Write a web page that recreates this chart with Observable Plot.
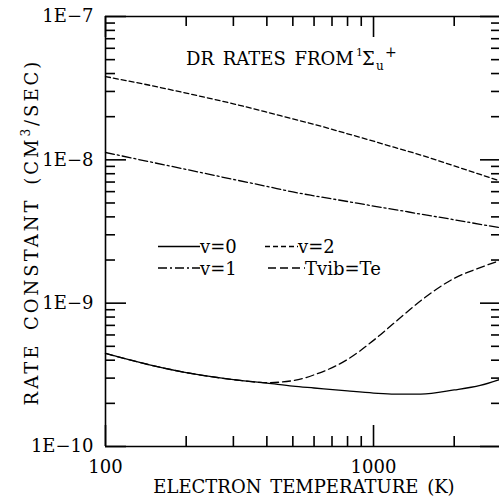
<!DOCTYPE html>
<html><head><meta charset="utf-8">
<script src="https://cdn.jsdelivr.net/npm/d3@7"></script>
<script src="https://cdn.jsdelivr.net/npm/@observablehq/plot@0.6"></script>
<style>html,body{margin:0;padding:0;overflow:hidden;background:#fff}</style>
</head><body><div id="chart"></div>
<script>
// ---- data ----
const temperature = [100,150,200,300,400,500,600,800,1000,1200,1500,2000,2500,3000];
const rateV0   = [4.46e-10,3.67e-10,3.28e-10,2.93e-10,2.77e-10,2.64e-10,2.56e-10,2.44e-10,2.36e-10,2.32e-10,2.32e-10,2.48e-10,2.67e-10,2.96e-10];
const rateV1   = [1.125e-8,9.59e-9,8.57e-9,7.30e-9,6.53e-9,5.97e-9,5.61e-9,5.12e-9,4.76e-9,4.50e-9,4.18e-9,3.82e-9,3.55e-9,3.35e-9];
const rateV2   = [3.81e-8,3.28e-8,2.92e-8,2.46e-8,2.15e-8,1.93e-8,1.77e-8,1.52e-8,1.35e-8,1.22e-8,1.08e-8,9.07e-9,7.91e-9,7.06e-9];
const rateTvib = [4.46e-10,3.67e-10,3.28e-10,2.93e-10,2.79e-10,2.88e-10,3.16e-10,4.05e-10,5.50e-10,7.33e-10,1.04e-9,1.49e-9,1.77e-9,2.00e-9];

const seriesNames = ["v=0","v=1","v=2","Tvib=Te"];
const seriesDash  = ["none","9,3,2,3","5,3","8,4"];

const xMajor = [100, 1000];
const xLabels = ["100", "1000"];
const xMinor = [200,300,400,500,600,700,800,900,2000,3000];
const yMajor = [1e-10, 1e-9, 1e-8, 1e-7];
const yLabels = ["1E\u221210", "1E\u22129", "1E\u22128", "1E\u22127"];
const yMinor = [];
for (const d of [1e-10, 1e-9, 1e-8]) for (let k = 2; k <= 9; k++) yMinor.push(k * d);

const xTitle = "ELECTRON TEMPERATURE (K)";
const yTitleA = "RATE CONSTANT (CM", yTitleSup = "3", yTitleB = "/SEC)";
const innerTitle = "DR RATES FROM";

// ---- layout ----
const W = 499, H = 498;
const mL = 105, mT = 16, mB = 52, mR = 0;
const plotW = W - mL - mR, plotH = H - mT - mB;
const majorLen = 21, minorLen = 10;

const rows = [];
const allRates = [rateV0, rateV1, rateV2, rateTvib];
allRates.forEach((arr, s) => arr.forEach((v, i) => rows.push({series: seriesNames[s], T: temperature[i], rate: v})));

const lineMarks = seriesNames.map((name, s) =>
  Plot.line(rows.filter(r => r.series === name), {
    x: "T", y: "rate", stroke: "black", strokeWidth: 1.3,
    strokeDasharray: seriesDash[s], curve: "monotone-x"
  })
);

const ts = {stroke: "black", strokeWidth: 1.6};
const chart = Plot.plot({
  width: W, height: H,
  marginLeft: mL, marginTop: mT, marginBottom: mB, marginRight: mR,
  x: {type: "log", domain: [100, 3000], range: [mL, 500.9]},
  y: {type: "log", domain: [1e-10, 1e-7]},
  style: {fontFamily: "'DejaVu Serif', serif", fontSize: "18px", color: "black"},
  marks: [
    // frame: left, top, bottom (the right edge lies just beyond the picture)
    Plot.ruleY([1e-10, 1e-7], {stroke: "black", strokeWidth: 1.6}),
    Plot.ruleX([100], {stroke: "black", strokeWidth: 1.6}),
    // inward ticks: bottom, top, left, right
    Plot.tickX(xMajor, {x: d => d, insetTop: plotH - majorLen, ...ts}),
    Plot.tickX(xMinor, {x: d => d, insetTop: plotH - minorLen, ...ts}),
    Plot.tickX(xMajor, {x: d => d, insetBottom: plotH - majorLen, ...ts}),
    Plot.tickX(xMinor, {x: d => d, insetBottom: plotH - minorLen, ...ts}),
    Plot.tickY(yMajor, {y: d => d, insetRight: plotW - majorLen, ...ts}),
    Plot.tickY(yMinor, {y: d => d, insetRight: plotW - minorLen, ...ts}),
    Plot.tickY(yMajor, {y: d => d, insetLeft: plotW - (majorLen - 2), ...ts}),
    Plot.tickY(yMinor, {y: d => d, insetLeft: plotW - (minorLen - 2), ...ts}),
    // tick labels
    Plot.axisX(xMajor, {anchor: "bottom", tickSize: 0, tickPadding: 14, label: null, tickFormat: d => xLabels[xMajor.indexOf(d)]}),
    Plot.axisY(yMajor, {anchor: "left", tickSize: 0, tickPadding: 12, label: null, tickFormat: d => yLabels[yMajor.indexOf(d)]}),
    ...lineMarks
  ]
});
document.getElementById("chart").appendChild(chart);

// ---- annotations: axis titles, inner title, legend ----
const svg = d3.select(chart);
const font = "'DejaVu Serif', serif";
const g = svg.append("g").attr("font-family", font).attr("fill", "black").attr("text-anchor", "start");
g.append("text").attr("x", 304).attr("y", 493).attr("text-anchor", "middle")
  .attr("font-size", 18).attr("word-spacing", 3).text(xTitle);
const yt = g.append("text").attr("transform", "translate(38,232) rotate(-90)")
  .attr("text-anchor", "middle").attr("font-size", 18)
  .attr("letter-spacing", 3).attr("word-spacing", 4);
yt.append("tspan").text(yTitleA);
yt.append("tspan").attr("font-size", 12).attr("dy", -8).text(yTitleSup);
yt.append("tspan").attr("dy", 8).text(yTitleB);
const tt = g.append("text").attr("font-size", 18).attr("y", 65);
tt.append("tspan").attr("x", 186).attr("word-spacing", 3).text(innerTitle);
tt.append("tspan").attr("x", 356).attr("y", 56).attr("font-size", 11).text("1");
tt.append("tspan").attr("x", 362).attr("y", 65).text("\u03A3");
tt.append("tspan").attr("x", 376).attr("y", 70).attr("font-size", 12).text("u");
tt.append("tspan").attr("x", 385).attr("y", 57).attr("font-size", 14).text("+");
const legend = [
  {name: seriesNames[0], dash: seriesDash[0], x1: 158, x2: 200, y: 246.5},
  {name: seriesNames[2], dash: seriesDash[2], x1: 265, x2: 298, y: 246.5},
  {name: seriesNames[1], dash: seriesDash[1], x1: 158, x2: 200, y: 268},
  {name: seriesNames[3], dash: seriesDash[3], x1: 268, x2: 305, y: 268}
];
legend.forEach(d => {
  g.append("line").attr("x1", d.x1).attr("x2", d.x2).attr("y1", d.y).attr("y2", d.y)
    .attr("stroke", "black").attr("stroke-width", 1.3)
    .attr("stroke-dasharray", d.dash === "none" ? null : d.dash);
  g.append("text").attr("x", d.x2).attr("y", d.y + 6.5).attr("font-size", 18).text(d.name);
});
</script>
</body></html>
